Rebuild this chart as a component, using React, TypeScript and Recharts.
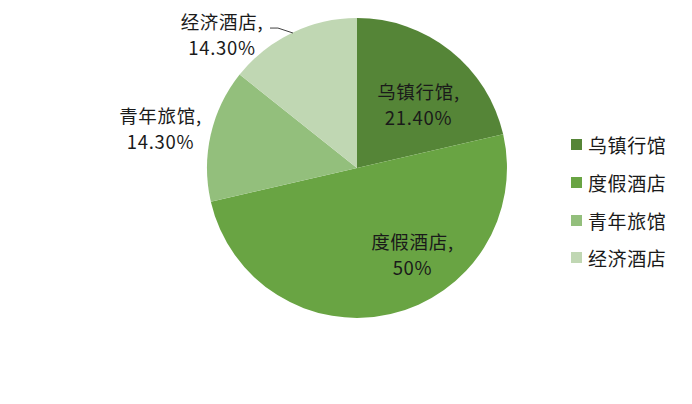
import React from "react";
import { PieChart, Pie, Cell, Legend } from "recharts";

const categories = ["乌镇行馆", "度假酒店", "青年旅馆", "经济酒店"];
const shares = [21.4, 50, 14.3, 14.3];
const shareLabels = ["21.40%", "50%", "14.30%", "14.30%"];
const colors = ["#558537", "#69a443", "#93bf7c", "#c0d7b3"];

// label centre offsets, as fractions of the radius (best-fit style placement)
const labelOffsets = [
  [0.41, -0.42],
  [0.37, 0.58],
  [-1.31, -0.26],
  [-0.9, -0.89],
];

const data = categories.map((name, i) => ({ name, value: shares[i] }));

const FONT = "'Noto Sans CJK SC', 'Noto Sans', sans-serif";
const TEXT = "#1a1a1a";

const renderLabel = (props: any) => {
  const { cx, cy, outerRadius, index } = props;
  const [fx, fy] = labelOffsets[index];
  const x = cx + fx * outerRadius;
  const y = cy + fy * outerRadius;
  const common = {
    x,
    textAnchor: "middle" as const,
    fontFamily: FONT,
    fontSize: 18.5,
    fill: TEXT,
    letterSpacing: 0.7,
  };
  return (
    <g key={"lbl" + index}>
      {index === 3 && (
        <polyline
          points={`${cx - 0.58 * outerRadius},${cy - 0.933 * outerRadius} ${cx - 0.527 * outerRadius},${cy - 0.933 * outerRadius} ${cx - 0.427 * outerRadius},${cy - 0.9 * outerRadius}`}
          fill="none"
          stroke="#404040"
          strokeWidth={1}
        />
      )}
      <text {...common} y={y - 6}>{categories[index] + ","}</text>
      <text {...common} y={y + 20}>{shareLabels[index]}</text>
    </g>
  );
};

const renderLegend = () => (
  <div style={{ fontFamily: FONT, fontSize: 19, color: TEXT, letterSpacing: 0.6 }}>
    {categories.map((c, i) => (
      <div key={c} style={{ display: "flex", alignItems: "center", height: 37.7 }}>
        <span style={{ width: 11, height: 11, background: colors[i], marginRight: 6 }} />
        <span>{c}</span>
      </div>
    ))}
  </div>
);

export default function App() {
  return (
    <div style={{ position: "absolute", left: 0, top: 0, width: 692, height: 404, background: "#fff" }}>
      <PieChart width={692} height={404} margin={{ top: 0, right: 0, bottom: 0, left: 0 }}>
        <Pie
          data={data}
          dataKey="value"
          nameKey="name"
          cx={357}
          cy={168}
          outerRadius={150}
          startAngle={90}
          endAngle={-270}
          stroke="none"
          label={renderLabel}
          labelLine={false}
          isAnimationActive={false}
        >
          {data.map((d, i) => (
            <Cell key={d.name} fill={colors[i]} />
          ))}
        </Pie>
        <Legend
          content={renderLegend}
          wrapperStyle={{ left: 571, top: 126, width: 121 }}
        />
      </PieChart>
    </div>
  );
}
